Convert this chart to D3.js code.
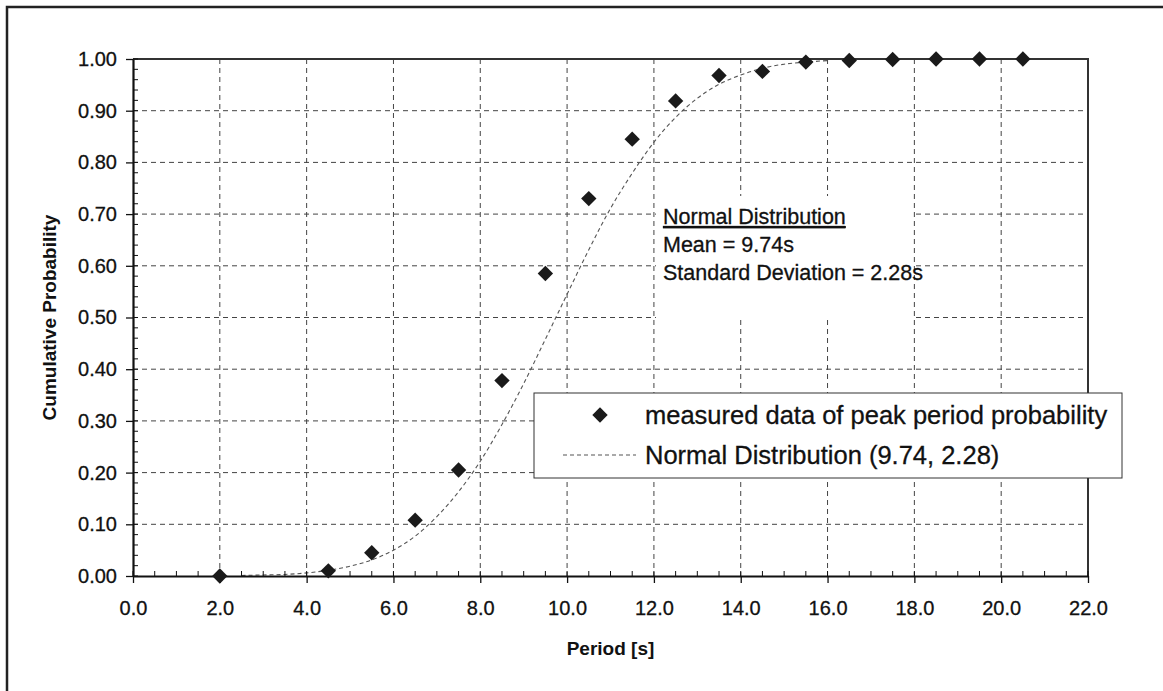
<!DOCTYPE html>
<html>
<head>
<meta charset="utf-8">
<script src="https://cdn.jsdelivr.net/npm/d3@7"></script>
<style>
body { margin: 0; background: #fff; }
text { font-family: Arial, "Liberation Sans", sans-serif; fill: #111; }
</style>
</head>
<body>
<svg id="chart"></svg>
<script>
// measured points
var periods = [2.0, 4.5, 5.5, 6.5, 7.5, 8.5, 9.5, 10.5, 11.5, 12.5, 13.5, 14.5, 15.5, 16.5, 17.5, 18.5, 19.5, 20.5];
var probs = [0.000, 0.010, 0.045, 0.108, 0.205, 0.378, 0.585, 0.730, 0.845, 0.919, 0.968, 0.976, 0.994, 0.997, 0.999, 1.000, 1.000, 1.000];

// fitted normal curve
var fitPeriods = [2.5, 3.0, 3.5, 4.0, 4.5, 5.0, 5.5, 6.0, 6.5, 7.0, 7.5, 8.0, 8.5, 9.0, 9.5, 10.0, 10.5, 11.0, 11.5, 12.0, 12.5, 13.0, 13.5, 14.0, 14.5, 15.0, 15.5, 16.0];
var fitProbs = [0.001, 0.002, 0.003, 0.006, 0.011, 0.019, 0.031, 0.050, 0.077, 0.115, 0.163, 0.222, 0.293, 0.372, 0.458, 0.545, 0.631, 0.711, 0.779, 0.839, 0.887, 0.924, 0.951, 0.969, 0.982, 0.990, 0.994, 0.997];

var xTickValues = [0, 2, 4, 6, 8, 10, 12, 14, 16, 18, 20, 22];
var yTickValues = [0, 0.1, 0.2, 0.3, 0.4, 0.5, 0.6, 0.7, 0.8, 0.9, 1.0];
var legendLabels = ["measured data of peak period probability", "Normal Distribution (9.74, 2.28)"];
var noteLines = ["Normal Distribution", "Mean = 9.74s", "Standard Deviation = 2.28s"];

var w = 1163,
    h = 691,
    plotLeft = 133,
    plotRight = 1088,
    plotTop = 59,
    plotBottom = 576;

var svg = d3.select("#chart")
  .attr("width", w)
  .attr("height", h);

var x = d3.scaleLinear().domain([0, 22]).range([plotLeft, plotRight]);
var y = d3.scaleLinear().domain([0, 1]).range([plotBottom, plotTop]);

// gridlines
svg.append("g").selectAll("line")
  .data(xTickValues.filter(function(d) { return d > 0 && d < 22; }))
  .enter().append("line")
  .attr("x1", x).attr("x2", x)
  .attr("y1", plotTop).attr("y2", plotBottom)
  .attr("stroke", "#444")
  .attr("stroke-width", 1)
  .attr("stroke-dasharray", "5,4");

svg.append("g").selectAll("line")
  .data(yTickValues.filter(function(d) { return d > 0 && d < 1; }))
  .enter().append("line")
  .attr("x1", plotLeft).attr("x2", plotRight)
  .attr("y1", y).attr("y2", y)
  .attr("stroke", "#444")
  .attr("stroke-width", 1)
  .attr("stroke-dasharray", "5,4");

// annotation box
svg.append("rect")
  .attr("x", 656).attr("y", 196)
  .attr("width", 256).attr("height", 124)
  .attr("fill", "#fff");

svg.append("g").selectAll("text")
  .data(noteLines)
  .enter().append("text")
  .attr("x", 663)
  .attr("y", function(d, i) { return 224 + i * 28; })
  .attr("font-size", 21.5)
  .attr("stroke", "#111")
  .attr("stroke-width", 0.3)
  .attr("text-decoration", function(d, i) { return i == 0 ? "underline" : null; })
  .text(function(d) { return d; });

// fitted curve
var line = d3.line()
  .x(function(d, i) { return x(fitPeriods[i]); })
  .y(function(d) { return y(d); })
  .curve(d3.curveMonotoneX);

svg.append("path")
  .datum(fitProbs)
  .attr("d", line)
  .attr("fill", "none")
  .attr("stroke", "#555")
  .attr("stroke-width", 1.1)
  .attr("stroke-dasharray", "4,3");

// plot frame top / right
svg.append("path")
  .attr("d", "M" + plotLeft + "," + plotTop + "H" + plotRight + "V" + plotBottom)
  .attr("fill", "none")
  .attr("stroke", "#333")
  .attr("stroke-width", 2);

// axes
var yAxis = d3.axisLeft(y)
  .tickValues(yTickValues)
  .tickFormat(d3.format(".2f"))
  .tickSize(7)
  .tickSizeOuter(0)
  .tickPadding(9);

var xAxis = d3.axisBottom(x)
  .tickValues(xTickValues)
  .tickFormat(d3.format(".1f"))
  .tickSize(7)
  .tickSizeOuter(0)
  .tickPadding(18);

var gy = svg.append("g")
  .attr("transform", "translate(" + plotLeft + ",0)")
  .call(yAxis);
var gx = svg.append("g")
  .attr("transform", "translate(0," + plotBottom + ")")
  .call(xAxis);

[gx, gy].forEach(function(g) {
  g.select(".domain").attr("stroke", "#111").attr("stroke-width", 2.2);
  g.selectAll(".tick line").attr("stroke", "#111").attr("stroke-width", 1.3);
  g.selectAll(".tick text")
    .attr("font-family", "Arial, 'Liberation Sans', sans-serif")
    .attr("font-size", 20)
    .attr("fill", "#111")
    .attr("stroke", "#111")
    .attr("stroke-width", 0.3);
});

// minor ticks, pointing inward
svg.append("g").selectAll("line")
  .data(d3.range(0, 1.0001, 0.02))
  .enter().append("line")
  .attr("x1", plotLeft).attr("x2", plotLeft + 5)
  .attr("y1", y).attr("y2", y)
  .attr("stroke", "#111");

svg.append("g").selectAll("line")
  .data(d3.range(0, 22.0001, 0.5))
  .enter().append("line")
  .attr("x1", x).attr("x2", x)
  .attr("y1", plotBottom).attr("y2", plotBottom - 5)
  .attr("stroke", "#111");

// measured points
var diamond = d3.symbol().type(d3.symbolSquare).size(118);

svg.append("g").selectAll("path")
  .data(probs)
  .enter().append("path")
  .attr("d", diamond)
  .attr("transform", function(d, i) { return "translate(" + x(periods[i]) + "," + y(d) + ")rotate(45)"; })
  .attr("fill", "#1a1a1a");

// axis titles
svg.append("text")
  .attr("transform", "translate(56," + (plotTop + plotBottom) / 2 + ")rotate(-90)")
  .attr("text-anchor", "middle")
  .attr("font-size", 19)
  .attr("font-weight", "bold")
  .text("Cumulative Probability");

svg.append("text")
  .attr("x", (plotLeft + plotRight) / 2)
  .attr("y", 655)
  .attr("text-anchor", "middle")
  .attr("font-size", 19)
  .attr("font-weight", "bold")
  .text("Period [s]");

// legend
var legend = svg.append("g");
legend.append("rect")
  .attr("x", 534).attr("y", 393)
  .attr("width", 588).attr("height", 85)
  .attr("fill", "#fff")
  .attr("stroke", "#333")
  .attr("stroke-width", 1);

legend.append("path")
  .attr("d", diamond)
  .attr("transform", "translate(600,415)rotate(45)")
  .attr("fill", "#1a1a1a");

legend.append("line")
  .attr("x1", 563).attr("x2", 636)
  .attr("y1", 455).attr("y2", 455)
  .attr("stroke", "#555")
  .attr("stroke-width", 1.1)
  .attr("stroke-dasharray", "4,3");

legend.selectAll("text")
  .data(legendLabels)
  .enter().append("text")
  .attr("x", 645)
  .attr("y", function(d, i) { return 424 + i * 40; })
  .attr("font-size", 25.5)
  .attr("stroke", "#111")
  .attr("stroke-width", 0.3)
  .text(function(d) { return d; });

// outer frame
svg.append("path")
  .attr("d", "M7," + h + "V7H" + w)
  .attr("fill", "none")
  .attr("stroke", "#222")
  .attr("stroke-width", 2.5);
</script>
</body>
</html>
